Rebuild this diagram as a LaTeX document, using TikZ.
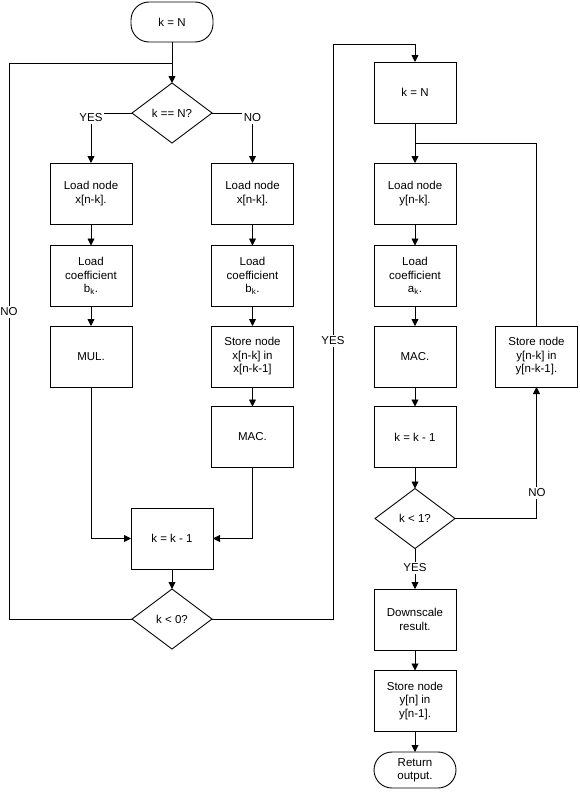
\documentclass[tikz,border=0pt]{standalone}
\usepackage{fontspec}
\setmainfont{Liberation Sans}
\usetikzlibrary{shapes.geometric,arrows.meta}
\begin{document}
\begin{tikzpicture}[x=1pt,y=-1pt,
  every node/.style={font=\fontsize{11.5}{13.5}\selectfont, align=center},
  box/.style={draw, line width=0.9pt, minimum width=82pt, minimum height=61pt, inner sep=0pt, outer sep=0pt},
  term/.style={draw, line width=0.9pt, rounded corners=18pt, minimum width=82pt, minimum height=40pt, inner sep=0pt, outer sep=0pt},
  dec/.style={draw, diamond, line width=0.9pt, minimum width=80pt, minimum height=60pt, inner sep=0pt, outer sep=0pt},
  lbl/.style={fill=white, inner sep=1.5pt},
  line/.style={line width=0.9pt},
  arr/.style={line width=0.9pt, -{Triangle[width=7pt,length=7pt]}}
]
\useasboundingbox (0,0) rectangle (579,795);
% left part
\node[term] (start) at (172,22) {k = N};
\node[dec] (d1) at (172,113) {k == N?};
\node[box] (A1) at (91,193.5) {Load node\\x[n-k].};
\node[box] (A2) at (91,276) {Load\\coefficient\\b\textsubscript{k}.};
\node[box] (A3) at (91,356.5) {MUL.};
\node[box] (B1) at (252.5,193.5) {Load node\\x[n-k].};
\node[box] (B2) at (252.5,276) {Load\\coefficient\\b\textsubscript{k}.};
\node[box] (B3) at (252.5,356.5) {Store node\\x[n-k] in\\x[n-k-1]};
\node[box] (B4) at (252.5,437) {MAC.};
\node[box] (C) at (172,538.5) {k = k - 1};
\node[dec] (d2) at (172,619) {k < 0?};
% right part
\node[box] (R1) at (415,92.5) {k = N};
\node[box] (R2) at (415,193.5) {Load node\\y[n-k].};
\node[box] (R3) at (415,276) {Load\\coefficient\\a\textsubscript{k}.};
\node[box] (R4) at (415,356.5) {MAC.};
\node[box] (R5) at (415,437) {k = k - 1};
\node[dec] (d3) at (415,518.5) {k < 1?};
\node[box] (R6) at (415,619.5) {Downscale\\result.};
\node[box] (R7) at (415,701) {Store node\\y[n] in\\y[n-1].};
\node[term, minimum height=36pt] (end) at (415,770) {Return\\output.};
\node[box] (S) at (536.5,356.5) {Store node\\y[n-k] in\\y[n-k-1].};

\coordinate (j1) at (172,63);
\coordinate (j2) at (415,143);

% connectors left
\draw[arr] (start) -- (d1);
\draw[line] (d2.west) -- (9,619) -- (9,63) -- (j1);
\node[lbl] (noL) at (9,312) {NO};
\draw[arr] (d1.west) -| (A1.north);
\node[lbl] (yesL) at (91,118) {YES};
\draw[arr] (d1.east) -| (B1.north);
\node[lbl] (noR) at (252.5,118) {NO};
\draw[arr] (A1) -- (A2);
\draw[arr] (A2) -- (A3);
\draw[arr] (B1) -- (B2);
\draw[arr] (B2) -- (B3);
\draw[arr] (B3) -- (B4);
\draw[arr] (A3.south) |- (C.west);
\draw[arr] (B4.south) |- (C.east);
\draw[arr] (C) -- (d2);
\draw[arr] (d2.east) -- (333,619) -- (333,44) -| (R1.north);
\node[lbl] (yesM) at (333,341) {YES};
% connectors right
\draw[arr] (R1) -- (R2);
\draw[line] (S.north) |- (j2);
\draw[arr] (R2) -- (R3);
\draw[arr] (R3) -- (R4);
\draw[arr] (R4) -- (R5);
\draw[arr] (R5) -- (d3);
\draw[arr] (d3.east) -| (S.south);
\node[lbl] (noS) at (537,493) {NO};
\draw[arr] (d3.south) -- (R6.north);
\node[lbl] (yesB) at (415,568) {YES};
\draw[arr] (R6) -- (R7);
\draw[arr] (R7) -- (end);
\end{tikzpicture}
\end{document}
